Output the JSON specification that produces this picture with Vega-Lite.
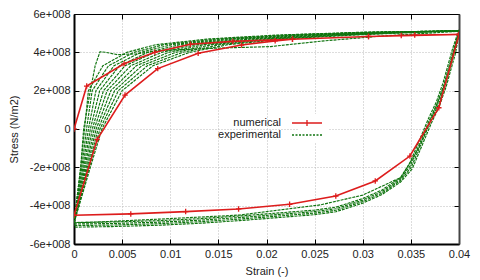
{
  "$schema": "https://vega.github.io/schema/vega-lite/v6.json",
  "width": 385,
  "height": 230,
  "autosize": "none",
  "padding": {"left": 74, "top": 14, "right": 21, "bottom": 36},
  "background": "white",
  "config": {
    "font": "Liberation Sans",
    "view": {"stroke": null},
    "axis": {"labelFont": "Liberation Sans", "titleFont": "Liberation Sans", "labelFontSize": 11, "titleFontSize": 11, "titleFontWeight": "normal", "labelColor": "#222", "titleColor": "#222", "tickColor": "#000", "domainColor": "#000"}
  },
  "datasets": {
    "exp": [
      {"c":"k0","o":1,"x":0,"y":-4.9e8},{"c":"k0","o":2,"x":0.0007,"y":-2.0e8},{"c":"k0","o":3,"x":0.0011,"y":0},{"c":"k0","o":4,"x":0.0015,"y":2.0e8},{"c":"k0","o":5,"x":0.003,"y":3.3e8},{"c":"k0","o":6,"x":0.0055,"y":4.0e8},{"c":"k0","o":7,"x":0.0085,"y":4.4e8},{"c":"k0","o":8,"x":0.014,"y":4.7e8},{"c":"k0","o":9,"x":0.021,"y":4.9e8},{"c":"k0","o":10,"x":0.03,"y":5.05e8},{"c":"k0","o":11,"x":0.04,"y":5.12e8},
      {"c":"k1","o":1,"x":0,"y":-4.9e8},{"c":"k1","o":2,"x":0.00081,"y":-2.0e8},{"c":"k1","o":3,"x":0.0013,"y":0},{"c":"k1","o":4,"x":0.00189,"y":2.0e8},{"c":"k1","o":5,"x":0.00358,"y":3.3e8},{"c":"k1","o":6,"x":0.00622,"y":4.0e8},{"c":"k1","o":7,"x":0.00933,"y":4.4e8},{"c":"k1","o":8,"x":0.01489,"y":4.7e8},{"c":"k1","o":9,"x":0.02189,"y":4.9e8},{"c":"k1","o":10,"x":0.03067,"y":5.05e8},{"c":"k1","o":11,"x":0.04,"y":5.12e8},
      {"c":"k2","o":1,"x":0,"y":-4.9e8},{"c":"k2","o":2,"x":0.00092,"y":-2.0e8},{"c":"k2","o":3,"x":0.0015,"y":0},{"c":"k2","o":4,"x":0.00228,"y":2.0e8},{"c":"k2","o":5,"x":0.00416,"y":3.3e8},{"c":"k2","o":6,"x":0.00694,"y":4.0e8},{"c":"k2","o":7,"x":0.01017,"y":4.4e8},{"c":"k2","o":8,"x":0.01578,"y":4.7e8},{"c":"k2","o":9,"x":0.02278,"y":4.9e8},{"c":"k2","o":10,"x":0.03133,"y":5.05e8},{"c":"k2","o":11,"x":0.04,"y":5.12e8},
      {"c":"k3","o":1,"x":0,"y":-4.9e8},{"c":"k3","o":2,"x":0.00103,"y":-2.0e8},{"c":"k3","o":3,"x":0.0017,"y":0},{"c":"k3","o":4,"x":0.00267,"y":2.0e8},{"c":"k3","o":5,"x":0.00473,"y":3.3e8},{"c":"k3","o":6,"x":0.00767,"y":4.0e8},{"c":"k3","o":7,"x":0.011,"y":4.4e8},{"c":"k3","o":8,"x":0.01667,"y":4.7e8},{"c":"k3","o":9,"x":0.02367,"y":4.9e8},{"c":"k3","o":10,"x":0.032,"y":5.05e8},{"c":"k3","o":11,"x":0.04,"y":5.12e8},
      {"c":"k4","o":1,"x":0,"y":-4.9e8},{"c":"k4","o":2,"x":0.00114,"y":-2.0e8},{"c":"k4","o":3,"x":0.0019,"y":0},{"c":"k4","o":4,"x":0.00306,"y":2.0e8},{"c":"k4","o":5,"x":0.00531,"y":3.3e8},{"c":"k4","o":6,"x":0.00839,"y":4.0e8},{"c":"k4","o":7,"x":0.01183,"y":4.4e8},{"c":"k4","o":8,"x":0.01756,"y":4.7e8},{"c":"k4","o":9,"x":0.02456,"y":4.9e8},{"c":"k4","o":10,"x":0.03267,"y":5.05e8},{"c":"k4","o":11,"x":0.04,"y":5.12e8},
      {"c":"k5","o":1,"x":0,"y":-4.9e8},{"c":"k5","o":2,"x":0.00126,"y":-2.0e8},{"c":"k5","o":3,"x":0.0021,"y":0},{"c":"k5","o":4,"x":0.00344,"y":2.0e8},{"c":"k5","o":5,"x":0.00589,"y":3.3e8},{"c":"k5","o":6,"x":0.00911,"y":4.0e8},{"c":"k5","o":7,"x":0.01267,"y":4.4e8},{"c":"k5","o":8,"x":0.01844,"y":4.7e8},{"c":"k5","o":9,"x":0.02544,"y":4.9e8},{"c":"k5","o":10,"x":0.03333,"y":5.05e8},{"c":"k5","o":11,"x":0.04,"y":5.12e8},
      {"c":"k6","o":1,"x":0,"y":-4.9e8},{"c":"k6","o":2,"x":0.00137,"y":-2.0e8},{"c":"k6","o":3,"x":0.0023,"y":0},{"c":"k6","o":4,"x":0.00383,"y":2.0e8},{"c":"k6","o":5,"x":0.00647,"y":3.3e8},{"c":"k6","o":6,"x":0.00983,"y":4.0e8},{"c":"k6","o":7,"x":0.0135,"y":4.4e8},{"c":"k6","o":8,"x":0.01933,"y":4.7e8},{"c":"k6","o":9,"x":0.02633,"y":4.9e8},{"c":"k6","o":10,"x":0.034,"y":5.05e8},{"c":"k6","o":11,"x":0.04,"y":5.12e8},
      {"c":"k7","o":1,"x":0,"y":-4.9e8},{"c":"k7","o":2,"x":0.00148,"y":-2.0e8},{"c":"k7","o":3,"x":0.0025,"y":0},{"c":"k7","o":4,"x":0.00422,"y":2.0e8},{"c":"k7","o":5,"x":0.00704,"y":3.3e8},{"c":"k7","o":6,"x":0.01056,"y":4.0e8},{"c":"k7","o":7,"x":0.01433,"y":4.4e8},{"c":"k7","o":8,"x":0.02022,"y":4.7e8},{"c":"k7","o":9,"x":0.02722,"y":4.9e8},{"c":"k7","o":10,"x":0.03467,"y":5.05e8},{"c":"k7","o":11,"x":0.04,"y":5.12e8},
      {"c":"k8","o":1,"x":0,"y":-4.9e8},{"c":"k8","o":2,"x":0.00159,"y":-2.0e8},{"c":"k8","o":3,"x":0.0027,"y":0},{"c":"k8","o":4,"x":0.00461,"y":2.0e8},{"c":"k8","o":5,"x":0.00762,"y":3.3e8},{"c":"k8","o":6,"x":0.01128,"y":4.0e8},{"c":"k8","o":7,"x":0.01517,"y":4.4e8},{"c":"k8","o":8,"x":0.02111,"y":4.7e8},{"c":"k8","o":9,"x":0.02811,"y":4.9e8},{"c":"k8","o":10,"x":0.03533,"y":5.05e8},{"c":"k8","o":11,"x":0.04,"y":5.12e8},
      {"c":"k9","o":1,"x":0,"y":-4.9e8},{"c":"k9","o":2,"x":0.0017,"y":-2.0e8},{"c":"k9","o":3,"x":0.0029,"y":0},{"c":"k9","o":4,"x":0.005,"y":2.0e8},{"c":"k9","o":5,"x":0.0082,"y":3.3e8},{"c":"k9","o":6,"x":0.012,"y":4.0e8},{"c":"k9","o":7,"x":0.016,"y":4.4e8},{"c":"k9","o":8,"x":0.022,"y":4.7e8},{"c":"k9","o":9,"x":0.029,"y":4.9e8},{"c":"k9","o":10,"x":0.036,"y":5.05e8},{"c":"k9","o":11,"x":0.04,"y":5.12e8},
      {"c":"p","o":1,"x":0,"y":-4.9e8},{"c":"p","o":2,"x":0.0007,"y":-2.0e8},{"c":"p","o":3,"x":0.001,"y":0},{"c":"p","o":4,"x":0.0017,"y":2.0e8},{"c":"p","o":5,"x":0.0022,"y":3.3e8},{"c":"p","o":6,"x":0.0027,"y":4.03e8},{"c":"p","o":7,"x":0.0033,"y":4.0e8},{"c":"p","o":8,"x":0.0045,"y":3.88e8},{"c":"p","o":9,"x":0.0065,"y":3.92e8},{"c":"p","o":10,"x":0.009,"y":4.1e8},{"c":"p","o":11,"x":0.015,"y":4.22e8},{"c":"p","o":12,"x":0.0204,"y":4.3e8},{"c":"p","o":13,"x":0.026,"y":4.6e8},{"c":"p","o":14,"x":0.032,"y":4.85e8},{"c":"p","o":15,"x":0.04,"y":5.1e8},
      {"c":"t","o":1,"x":0.04,"y":5.1e8},{"c":"t","o":2,"x":0.0385,"y":2.3e8},{"c":"t","o":3,"x":0.037,"y":0.4e8},{"c":"t","o":4,"x":0.0358,"y":-1.0e8},{"c":"t","o":5,"x":0.034,"y":-2.52e8},{"c":"t","o":6,"x":0.03,"y":-3.45e8},{"c":"t","o":7,"x":0.0256,"y":-3.96e8},{"c":"t","o":8,"x":0.0172,"y":-4.49e8},{"c":"t","o":9,"x":0.0089,"y":-4.7e8},{"c":"t","o":10,"x":0.003,"y":-4.84e8},{"c":"t","o":11,"x":0,"y":-4.9e8},
      {"c":"u0","o":1,"x":0.04,"y":5.0e8},{"c":"u0","o":2,"x":0.03965,"y":3.98e8},{"c":"u0","o":3,"x":0.03915,"y":3.08e8},{"c":"u0","o":4,"x":0.03865,"y":2.18e8},{"c":"u0","o":5,"x":0.03795,"y":1.18e8},{"c":"u0","o":6,"x":0.03715,"y":0.33e8},{"c":"u0","o":7,"x":0.03615,"y":-0.87e8},{"c":"u0","o":8,"x":0.03515,"y":-2.07e8},{"c":"u0","o":9,"x":0.0339,"y":-2.78e8},{"c":"u0","o":10,"x":0.032,"y":-3.42e8},{"c":"u0","o":11,"x":0.03,"y":-3.87e8},{"c":"u0","o":12,"x":0.0272,"y":-4.32e8},{"c":"u0","o":13,"x":0.025,"y":-4.47e8},{"c":"u0","o":14,"x":0.02,"y":-4.67e8},{"c":"u0","o":15,"x":0.0172,"y":-4.78e8},{"c":"u0","o":16,"x":0.013,"y":-4.92e8},{"c":"u0","o":17,"x":0.0089,"y":-5.02e8},{"c":"u0","o":18,"x":0.004,"y":-5.09e8},{"c":"u0","o":19,"x":0,"y":-5.12e8},
      {"c":"u1","o":1,"x":0.04,"y":5.08e8},{"c":"u1","o":2,"x":0.03955,"y":4.06e8},{"c":"u1","o":3,"x":0.03905,"y":3.16e8},{"c":"u1","o":4,"x":0.03855,"y":2.26e8},{"c":"u1","o":5,"x":0.03785,"y":1.26e8},{"c":"u1","o":6,"x":0.03705,"y":0.41e8},{"c":"u1","o":7,"x":0.03605,"y":-0.79e8},{"c":"u1","o":8,"x":0.03505,"y":-1.99e8},{"c":"u1","o":9,"x":0.0339,"y":-2.7e8},{"c":"u1","o":10,"x":0.032,"y":-3.34e8},{"c":"u1","o":11,"x":0.03,"y":-3.79e8},{"c":"u1","o":12,"x":0.0272,"y":-4.24e8},{"c":"u1","o":13,"x":0.025,"y":-4.39e8},{"c":"u1","o":14,"x":0.02,"y":-4.59e8},{"c":"u1","o":15,"x":0.0172,"y":-4.7e8},{"c":"u1","o":16,"x":0.013,"y":-4.84e8},{"c":"u1","o":17,"x":0.0089,"y":-4.94e8},{"c":"u1","o":18,"x":0.004,"y":-5.01e8},{"c":"u1","o":19,"x":0,"y":-5.04e8},
      {"c":"u2","o":1,"x":0.04,"y":5.16e8},{"c":"u2","o":2,"x":0.03945,"y":4.14e8},{"c":"u2","o":3,"x":0.03895,"y":3.24e8},{"c":"u2","o":4,"x":0.03845,"y":2.34e8},{"c":"u2","o":5,"x":0.03775,"y":1.34e8},{"c":"u2","o":6,"x":0.03695,"y":0.49e8},{"c":"u2","o":7,"x":0.03595,"y":-0.71e8},{"c":"u2","o":8,"x":0.03495,"y":-1.91e8},{"c":"u2","o":9,"x":0.0339,"y":-2.62e8},{"c":"u2","o":10,"x":0.032,"y":-3.26e8},{"c":"u2","o":11,"x":0.03,"y":-3.71e8},{"c":"u2","o":12,"x":0.0272,"y":-4.16e8},{"c":"u2","o":13,"x":0.025,"y":-4.31e8},{"c":"u2","o":14,"x":0.02,"y":-4.51e8},{"c":"u2","o":15,"x":0.0172,"y":-4.62e8},{"c":"u2","o":16,"x":0.013,"y":-4.76e8},{"c":"u2","o":17,"x":0.0089,"y":-4.86e8},{"c":"u2","o":18,"x":0.004,"y":-4.93e8},{"c":"u2","o":19,"x":0,"y":-4.96e8},
      {"c":"u3","o":1,"x":0.04,"y":5.18e8},{"c":"u3","o":2,"x":0.03935,"y":4.22e8},{"c":"u3","o":3,"x":0.03885,"y":3.32e8},{"c":"u3","o":4,"x":0.03835,"y":2.42e8},{"c":"u3","o":5,"x":0.03765,"y":1.42e8},{"c":"u3","o":6,"x":0.03685,"y":0.57e8},{"c":"u3","o":7,"x":0.03585,"y":-0.63e8},{"c":"u3","o":8,"x":0.03485,"y":-1.83e8},{"c":"u3","o":9,"x":0.0339,"y":-2.54e8},{"c":"u3","o":10,"x":0.032,"y":-3.18e8},{"c":"u3","o":11,"x":0.03,"y":-3.63e8},{"c":"u3","o":12,"x":0.0272,"y":-4.08e8},{"c":"u3","o":13,"x":0.025,"y":-4.23e8},{"c":"u3","o":14,"x":0.02,"y":-4.43e8},{"c":"u3","o":15,"x":0.0172,"y":-4.54e8},{"c":"u3","o":16,"x":0.013,"y":-4.68e8},{"c":"u3","o":17,"x":0.0089,"y":-4.78e8},{"c":"u3","o":18,"x":0.004,"y":-4.85e8},{"c":"u3","o":19,"x":0,"y":-4.88e8}
    ],
    "num": [
      {"o":1,"x":0,"y":0},{"o":2,"x":0.00132,"y":2.24e8},{"o":3,"x":0.0052,"y":3.4e8},{"o":4,"x":0.0084,"y":4.0e8},{"o":5,"x":0.0121,"y":4.42e8},{"o":6,"x":0.0165,"y":4.57e8},{"o":7,"x":0.0227,"y":4.68e8},{"o":8,"x":0.0306,"y":4.83e8},{"o":9,"x":0.04,"y":4.93e8},
      {"o":10,"x":0.0379,"y":1.11e8},{"o":11,"x":0.0349,"y":-1.41e8},{"o":12,"x":0.0313,"y":-2.71e8},{"o":13,"x":0.0272,"y":-3.5e8},{"o":14,"x":0.0224,"y":-3.93e8},{"o":15,"x":0.0171,"y":-4.17e8},{"o":16,"x":0.0116,"y":-4.31e8},{"o":17,"x":0.0059,"y":-4.43e8},{"o":18,"x":0,"y":-4.5e8},
      {"o":19,"x":0.0024,"y":-0.55e8},{"o":20,"x":0.0053,"y":1.77e8},{"o":21,"x":0.0087,"y":3.15e8},{"o":22,"x":0.0129,"y":3.95e8},{"o":23,"x":0.0174,"y":4.38e8},{"o":24,"x":0.0209,"y":4.6e8},{"o":25,"x":0.0227,"y":4.68e8},{"o":26,"x":0.0306,"y":4.83e8},{"o":27,"x":0.034,"y":4.88e8},{"o":28,"x":0.0354,"y":4.9e8},{"o":29,"x":0.04,"y":4.93e8}
    ]
  },
  "layer": [
    {
      "data": {"name": "exp"},
      "mark": {"type": "line", "strokeWidth": 1.15, "strokeDash": [3, 1], "clip": true},
      "encoding": {
        "x": {"field": "x", "type": "quantitative", "scale": {"domain": [0, 0.04], "nice": false, "zero": false},
          "axis": {"orient": "bottom", "values": [0,0.005,0.01,0.015,0.02,0.025,0.03,0.035,0.04], "format": "~g", "title": "Strain (-)", "tickSize": -5, "labelPadding": 9, "titlePadding": 6, "grid": true, "gridColor": "#bbbbbb", "gridDash": [1,2], "domainWidth": 2, "labelFlush": false}},
        "y": {"field": "y", "type": "quantitative", "scale": {"domain": [-6e8, 6e8], "nice": false, "zero": false},
          "axis": {"orient": "left", "values": [-6e8,-4e8,-2e8,0,2e8,4e8,6e8], "labelExpr": "datum.value == 0 ? '0' : (datum.value/1e8) + 'e+008'", "title": "Stress (N/m2)", "tickSize": -5, "labelPadding": 9, "titlePadding": 10, "grid": true, "gridColor": "#bbbbbb", "gridDash": [1,2], "domainWidth": 2, "labelFlush": false}},
        "detail": {"field": "c"},
        "order": {"field": "o"},
        "color": {"datum": "experimental", "type": "nominal",
          "scale": {"domain": ["numerical", "experimental"], "range": ["#dd1c1c", "#0f740f"]},
          "legend": {"orient": "none", "legendX": 224, "legendY": 100, "title": null, "symbolType": "M-3,0L3,0", "symbolSize": 100, "symbolStrokeWidth": 1.3, "labelAlign": "right", "labelOffset": -32, "labelFontSize": 11, "labelFont": "Liberation Sans", "labelColor": "#222", "rowPadding": 0, "padding": 3, "fillColor": "white",
            "encode": {"symbols": {"update": {"strokeDash": {"signal": "datum.value == 'experimental' ? [2, 1.5] : [1, 0]"}, "shape": {"signal": "datum.value == 'numerical' ? 'M-3,0L3,0M0,-0.6L0,0.6' : 'M-3,0L3,0'"}}}}}
        }
      }
    },
    {
      "data": {"name": "num"},
      "mark": {"type": "line", "strokeWidth": 1.6, "clip": true},
      "encoding": {
        "x": {"field": "x", "type": "quantitative", "axis": null},
        "y": {"field": "y", "type": "quantitative", "axis": null},
        "order": {"field": "o"},
        "color": {"datum": "numerical", "type": "nominal"}
      }
    },
    {
      "data": {"name": "num"},
      "mark": {"type": "point", "shape": "M-1,0L1,0M0,-1L0,1", "size": 30, "filled": false, "strokeWidth": 1.3, "color": "#dd1c1c", "opacity": 1, "clip": true},
      "encoding": {
        "x": {"field": "x", "type": "quantitative", "axis": {"orient": "top", "values": [0,0.005,0.01,0.015,0.02,0.025,0.03,0.035,0.04], "labels": false, "title": null, "tickSize": -5, "grid": false, "domainWidth": 1}},
        "y": {"field": "y", "type": "quantitative", "axis": {"orient": "right", "values": [-6e8,-4e8,-2e8,0,2e8,4e8,6e8], "labels": false, "title": null, "tickSize": -5, "grid": false, "domainWidth": 2, "domainColor": "#444"}}
      }
    }
  ],
  "resolve": {"axis": {"x": "independent", "y": "independent"}}
}
